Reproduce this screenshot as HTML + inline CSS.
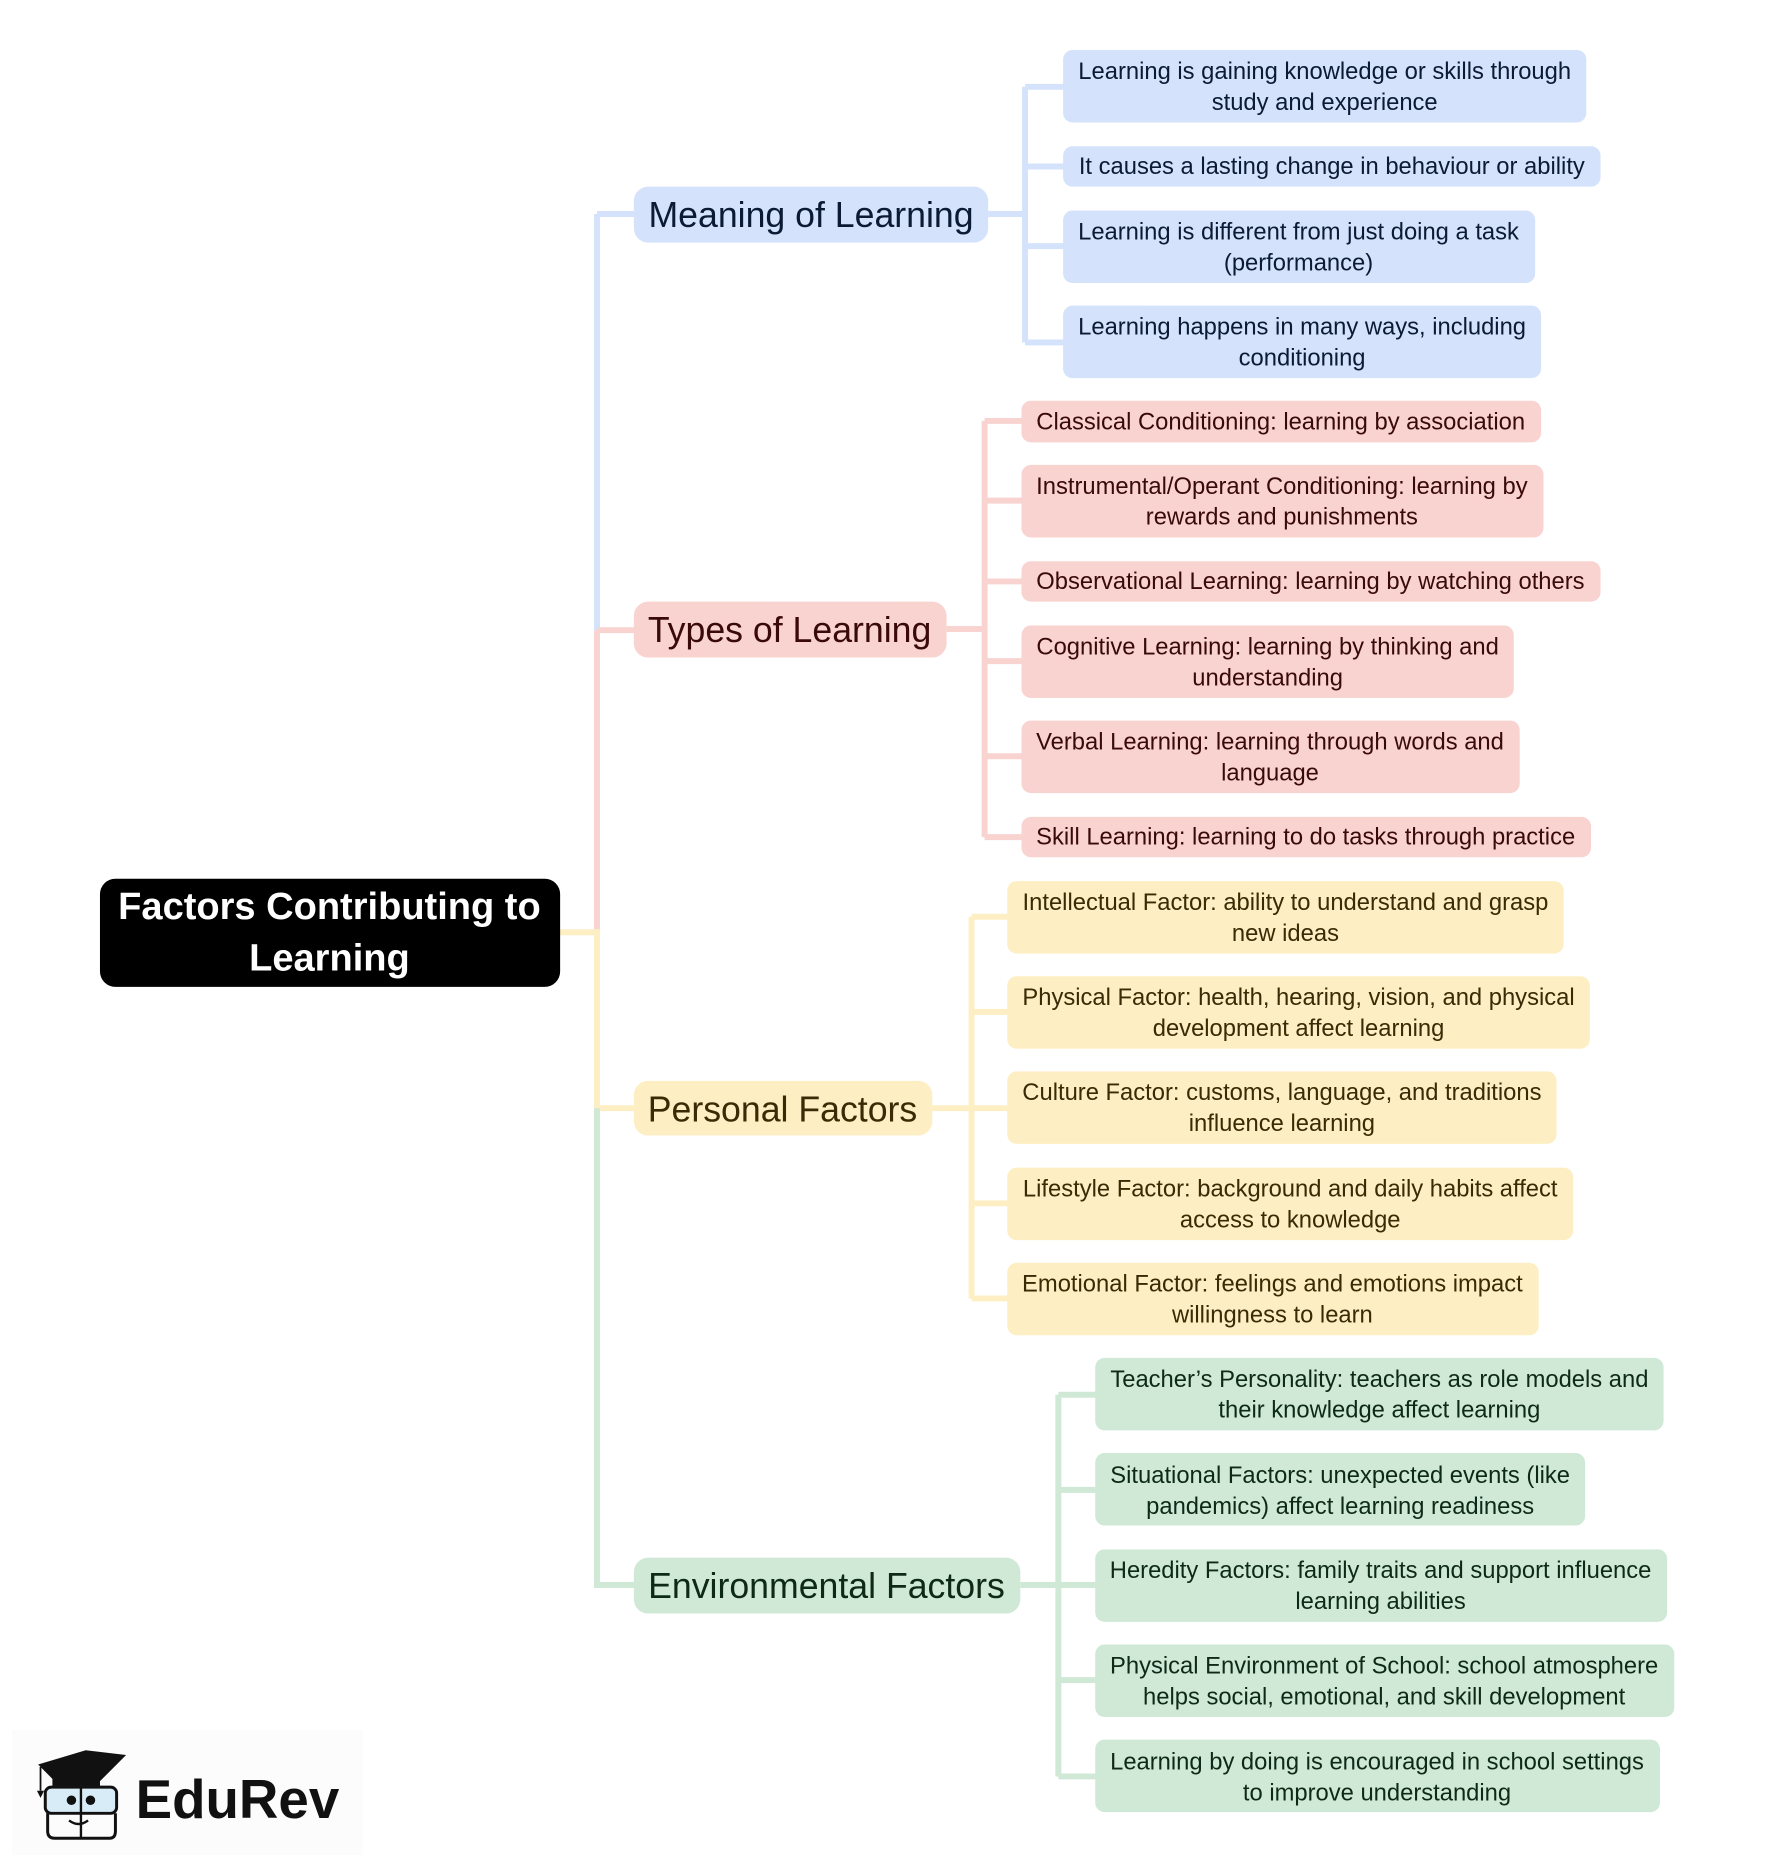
<!DOCTYPE html>
<html><head><meta charset="utf-8"><style>
html,body{margin:0;padding:0;background:#fff;}
svg{display:block;}
text{font-family:"Liberation Sans",sans-serif;}
</style></head><body>
<svg width="1779" height="1868" viewBox="0 0 1496 1571" xmlns="http://www.w3.org/2000/svg">
<rect width="1496" height="1571" fill="#fff"/>
<rect x="10" y="1455" width="295" height="105" fill="#fcfcfc"/>
<g fill="none" stroke-width="5" stroke-linejoin="miter">
<path d="M502,180 H535 M502,180 V530" stroke="#d4e3fb"/>
<path d="M502,530 H535 M502,530 V784" stroke="#f8d3d0"/>
<path d="M470,784 H502 V932 H535" stroke="#fdefc3"/>
<path d="M502,932 V1333 H535" stroke="#cfe9d6"/>
<path d="M831,180 H862 M862,73 V288 M862,73 H896 M862,140 H896 M862,207 H896 M862,288 H896" stroke="#d4e3fb"/>
<path d="M796,529 H828 M828,354 V704 M828,354 H861 M828,421 H861 M828,489 H861 M828,556 H861 M828,636 H861 M828,704 H861" stroke="#f8d3d0"/>
<path d="M784,932 H817 M817,771 V1092 M817,771 H849 M817,851 H849 M817,932 H849 M817,1012 H849 M817,1092 H849" stroke="#fdefc3"/>
<path d="M858,1333 H890 M890,1173 V1494 M890,1173 H923 M890,1253 H923 M890,1333 H923 M890,1413 H923 M890,1494 H923" stroke="#cfe9d6"/>
</g>
<rect x="84" y="739" width="387" height="91" rx="13" fill="#000"/>
<text x="277" y="763" font-size="32" font-weight="bold" fill="#fff" text-anchor="middle" dominant-baseline="central">Factors Contributing to</text>
<text x="277" y="806" font-size="32" font-weight="bold" fill="#fff" text-anchor="middle" dominant-baseline="central">Learning</text>
<g font-size="30" text-anchor="middle" dominant-baseline="central">
<rect x="533" y="157" width="298" height="47" rx="12" fill="#d4e3fb"/>
<text x="682" y="181" fill="#0b1a35">Meaning of Learning</text>
<rect x="533" y="506" width="263" height="47" rx="12" fill="#f8d3d0"/>
<text x="664" y="530" fill="#3a0a0a">Types of Learning</text>
<rect x="533" y="909" width="251" height="46" rx="12" fill="#fdefc3"/>
<text x="658" y="933" fill="#3a2a05">Personal Factors</text>
<rect x="533" y="1310" width="325" height="47" rx="12" fill="#cfe9d6"/>
<text x="695" y="1334" fill="#0d2a17">Environmental Factors</text>
</g>
<g font-size="20" text-anchor="middle" dominant-baseline="central">
<g fill="#d4e3fb">
<rect x="894" y="42" width="440" height="61" rx="8"/>
<rect x="894" y="123" width="452" height="34" rx="8"/>
<rect x="894" y="177" width="397" height="61" rx="8"/>
<rect x="894" y="257" width="402" height="61" rx="8"/>
</g>
<g fill="#0b1a35">
<text x="1114" y="60">Learning is gaining knowledge or skills through</text>
<text x="1114" y="86">study and experience</text>
<text x="1120" y="140">It causes a lasting change in behaviour or ability</text>
<text x="1092" y="195">Learning is different from just doing a task</text>
<text x="1092" y="221">(performance)</text>
<text x="1095" y="275">Learning happens in many ways, including</text>
<text x="1095" y="301">conditioning</text>
</g>
<g fill="#f8d3d0">
<rect x="859" y="337" width="437" height="35" rx="8"/>
<rect x="859" y="391" width="439" height="61" rx="8"/>
<rect x="859" y="472" width="487" height="34" rx="8"/>
<rect x="859" y="526" width="414" height="61" rx="8"/>
<rect x="859" y="606" width="419" height="61" rx="8"/>
<rect x="859" y="687" width="479" height="34" rx="8"/>
</g>
<g fill="#3a0a0a">
<text x="1077" y="355">Classical Conditioning: learning by association</text>
<text x="1078" y="409">Instrumental/Operant Conditioning: learning by</text>
<text x="1078" y="435">rewards and punishments</text>
<text x="1102" y="489">Observational Learning: learning by watching others</text>
<text x="1066" y="544">Cognitive Learning: learning by thinking and</text>
<text x="1066" y="570">understanding</text>
<text x="1068" y="624">Verbal Learning: learning through words and</text>
<text x="1068" y="650">language</text>
<text x="1098" y="704">Skill Learning: learning to do tasks through practice</text>
</g>
<g fill="#fdefc3">
<rect x="847" y="741" width="468" height="61" rx="8"/>
<rect x="847" y="821" width="490" height="61" rx="8"/>
<rect x="847" y="901" width="462" height="61" rx="8"/>
<rect x="847" y="982" width="476" height="61" rx="8"/>
<rect x="847" y="1062" width="447" height="61" rx="8"/>
</g>
<g fill="#3a2a05">
<text x="1081" y="759">Intellectual Factor: ability to understand and grasp</text>
<text x="1081" y="785">new ideas</text>
<text x="1092" y="839">Physical Factor: health, hearing, vision, and physical</text>
<text x="1092" y="865">development affect learning</text>
<text x="1078" y="919">Culture Factor: customs, language, and traditions</text>
<text x="1078" y="945">influence learning</text>
<text x="1085" y="1000">Lifestyle Factor: background and daily habits affect</text>
<text x="1085" y="1026">access to knowledge</text>
<text x="1070" y="1080">Emotional Factor: feelings and emotions impact</text>
<text x="1070" y="1106">willingness to learn</text>
</g>
<g fill="#cfe9d6">
<rect x="921" y="1142" width="478" height="61" rx="8"/>
<rect x="921" y="1222" width="412" height="61" rx="8"/>
<rect x="921" y="1303" width="481" height="61" rx="8"/>
<rect x="921" y="1383" width="487" height="61" rx="8"/>
<rect x="921" y="1463" width="475" height="61" rx="8"/>
</g>
<g fill="#0d2a17">
<text x="1160" y="1160">Teacher’s Personality: teachers as role models and</text>
<text x="1160" y="1186">their knowledge affect learning</text>
<text x="1127" y="1241">Situational Factors: unexpected events (like</text>
<text x="1127" y="1267">pandemics) affect learning readiness</text>
<text x="1161" y="1321">Heredity Factors: family traits and support influence</text>
<text x="1161" y="1347">learning abilities</text>
<text x="1164" y="1401">Physical Environment of School: school atmosphere</text>
<text x="1164" y="1427">helps social, emotional, and skill development</text>
<text x="1158" y="1482">Learning by doing is encouraged in school settings</text>
<text x="1158" y="1508">to improve understanding</text>
</g>
</g>
<g>
<polygon points="32,1484 72,1472 106,1476 82,1500 44,1496" fill="#111"/>
<rect x="44" y="1490" width="40" height="12" fill="#111"/>
<line x1="34" y1="1486" x2="34" y2="1506" stroke="#111" stroke-width="1.5"/>
<polygon points="31,1506 37,1506 34,1512" fill="#111"/>
<rect x="38" y="1503" width="60" height="22" rx="5" fill="#d8ecf8" stroke="#111" stroke-width="2.5"/>
<line x1="68" y1="1503" x2="68" y2="1546" stroke="#111" stroke-width="2"/>
<circle cx="60" cy="1514" r="4" fill="#111"/>
<circle cx="76" cy="1514" r="4" fill="#111"/>
<path d="M40,1525 V1540 Q40,1546 46,1546 H92 Q97,1546 97,1540 V1525" fill="none" stroke="#111" stroke-width="2.5"/>
<path d="M58,1531 Q66,1537 74,1531" fill="none" stroke="#111" stroke-width="2"/>
</g>
<text x="114" y="1529" font-size="46" font-weight="bold" fill="#111">EduRev</text>
</svg>
</body></html>
